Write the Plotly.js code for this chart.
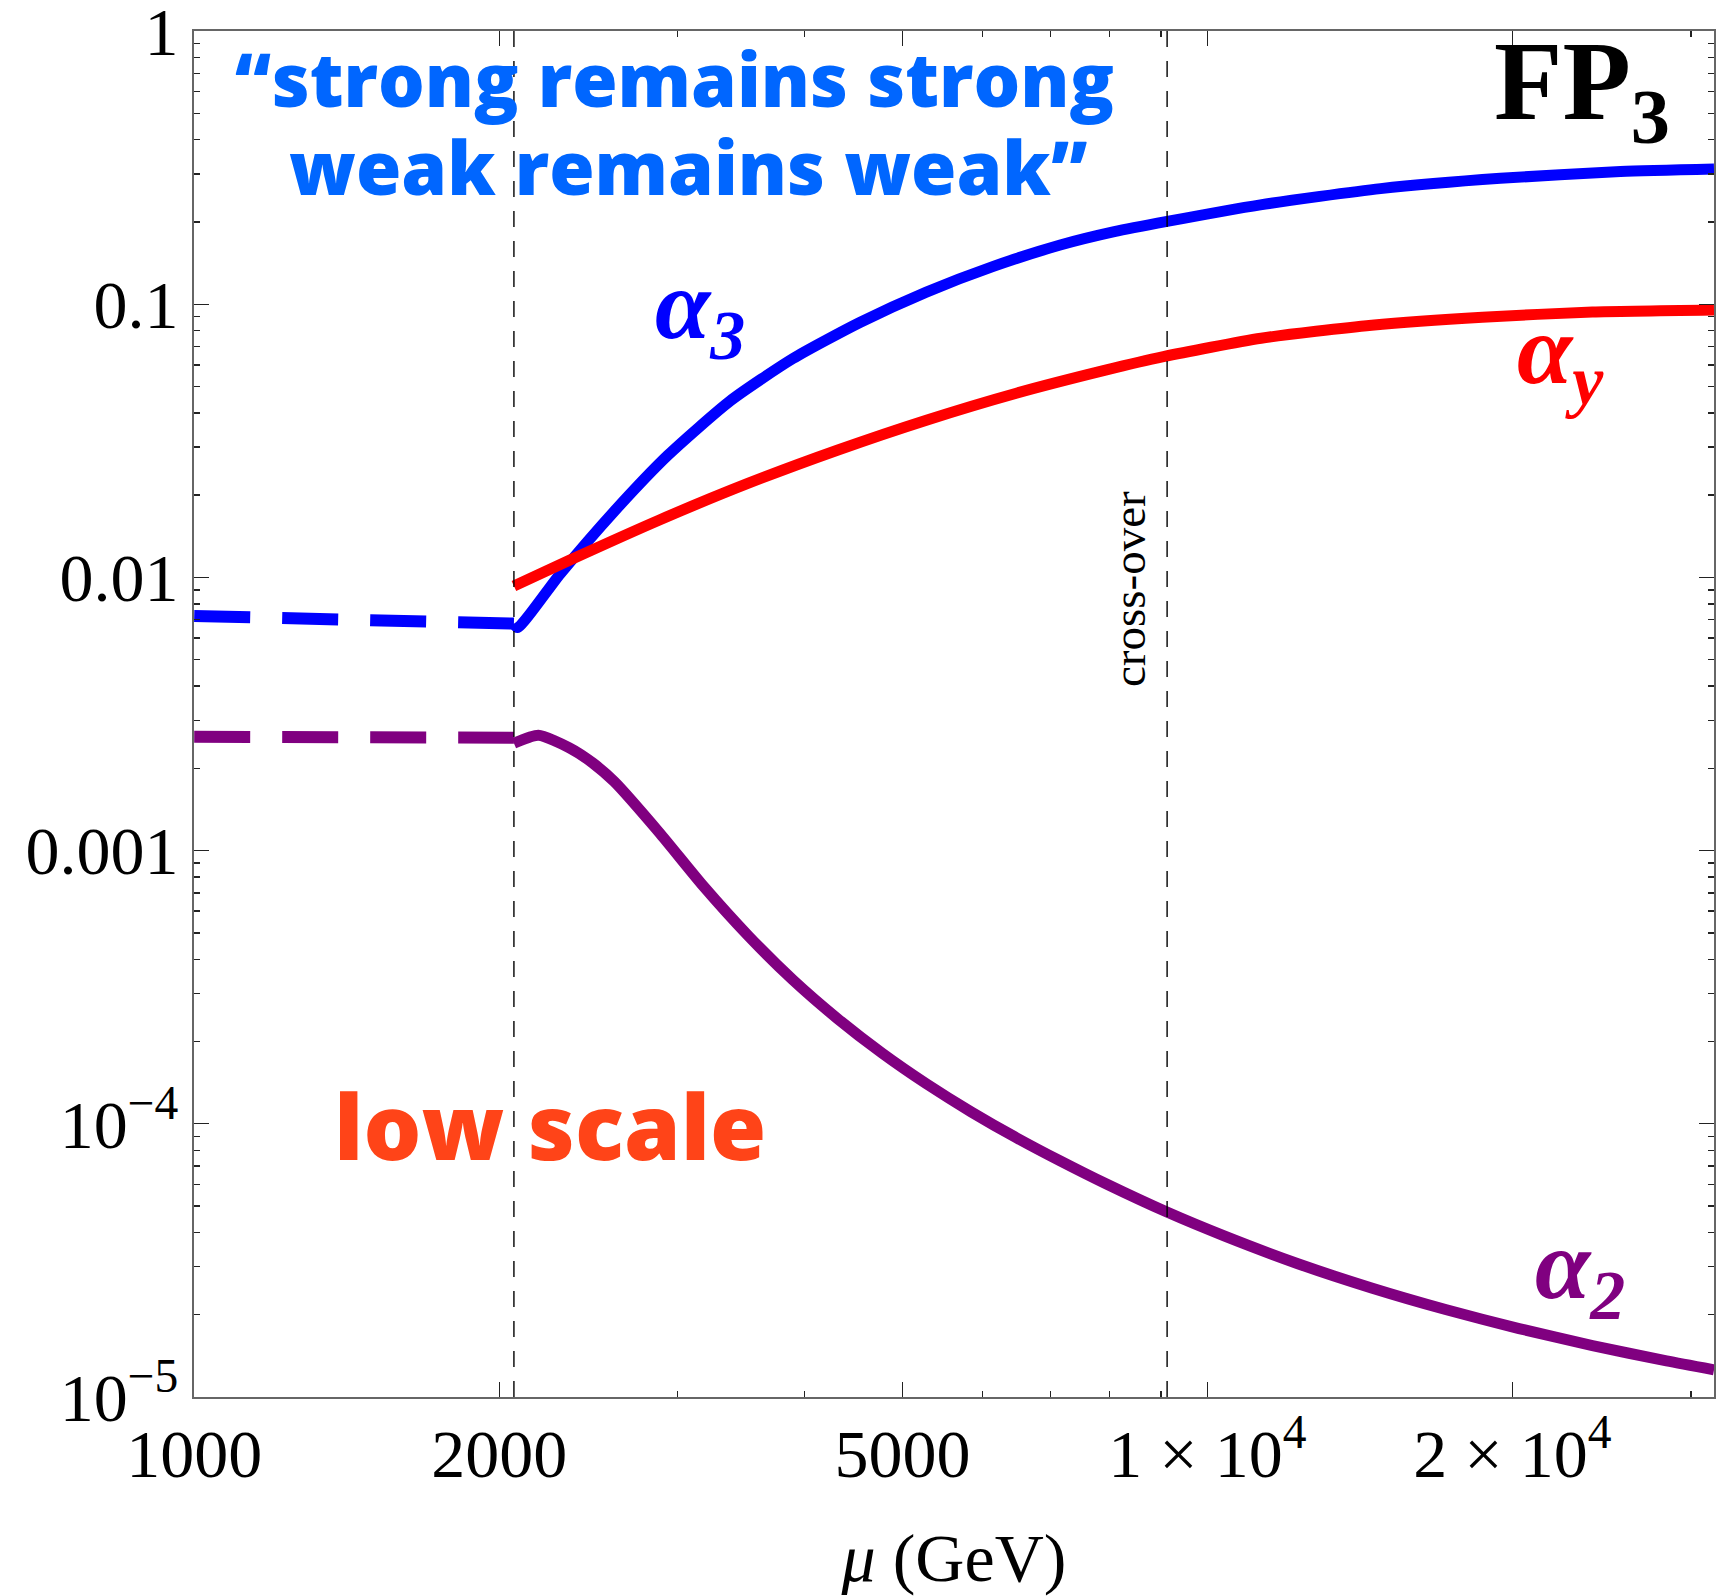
<!DOCTYPE html>
<html>
<head>
<meta charset="utf-8">
<script src="https://cdn.plot.ly/plotly-3.0.1.min.js"></script>
<style>
  html, body { margin: 0; padding: 0; background: #ffffff; }
  #chart { width: 1728px; height: 1596px; }
</style>
</head>
<body>
<div id="chart"></div>
<script>
// Running couplings at fixed point FP3 (log-log), mu in GeV
const muLow = [1000, 2068];            // below the matching scale (dashed)
const alpha3Low = [0.00722, 0.00678];
const alpha2Low = [0.00261, 0.00259];

const mu3 = [2068, 2085, 2298, 2598, 2934, 3381, 3897, 4539, 5280, 6148, 7157, 8093, 9125, 11280, 14822, 19461, 25570, 31623];
const alpha3 = [0.00678, 0.00655, 0.01032, 0.01747, 0.02800, 0.04430, 0.06322, 0.08575, 0.1108, 0.1376, 0.1647, 0.1843, 0.2010, 0.2312, 0.2650, 0.2891, 0.3062, 0.3127];

const muY = [2068, 2346, 2875, 3524, 4312, 5280, 6478, 7932, 9049, 11296, 14521, 18682, 23990, 31623];
const alphaY = [0.00931, 0.01156, 0.0162, 0.02213, 0.02922, 0.03764, 0.04725, 0.05738, 0.0643, 0.0751, 0.0838, 0.0897, 0.0936, 0.0952];

const mu2 = [2068, 2186, 2346, 2472, 2598, 2877, 3181, 3524, 3897, 4312, 4778, 5280, 5848, 6478, 7157, 7932, 9109, 10388, 12283, 14521, 17180, 20305, 23990, 28390, 31623];
const alpha2 = [0.002471, 0.002644, 0.002378, 0.002097, 0.001788, 0.001165, 0.000741, 0.000487, 0.0003367, 0.000243, 0.000181, 0.0001401, 0.0001105, 8.89e-5, 7.31e-5, 6.04e-5, 4.76e-5, 3.886e-5, 3.073e-5, 2.505e-5, 2.089e-5, 1.779e-5, 1.542e-5, 1.354e-5, 1.256e-5];

// matching scale and cross-over scale
const scaleMarks = [2068, 9125];

// axis ticks
const xTickVals = [1000, 2000, 5000, 10000, 20000];
const xTickText = ['1000', '2000', '5000', '1 × 10<sup>4</sup>', '2 × 10<sup>4</sup>'];
const xMinorVals = [3000, 4000, 6000, 7000, 8000, 9000, 30000];
const yTickVals = [1, 0.1, 0.01, 0.001, 1e-4, 1e-5];
const yTickText = ['1', '0.1', '0.01', '0.001', '10<sup>−4</sup>', '10<sup>−5</sup>'];
const yMinorVals = [];
[1e-5, 1e-4, 1e-3, 1e-2, 1e-1].forEach(d => { for (let k = 2; k <= 9; k++) yMinorVals.push(+(k * d).toPrecision(3)); });

const BLUE = '#0000ff', RED = '#ff0000', PURPLE = '#800080';

const traces = [
  { x: muLow, y: alpha3Low, mode: 'lines', line: { color: BLUE, width: 12, dash: '56px,32px' } },
  { x: muLow, y: alpha2Low, mode: 'lines', line: { color: PURPLE, width: 12, dash: '56px,32px' } },
  { x: mu3, y: alpha3, mode: 'lines', line: { color: BLUE, width: 11, shape: 'spline', smoothing: 0.6 } },
  { x: muY, y: alphaY, mode: 'lines', line: { color: RED, width: 11, shape: 'spline', smoothing: 0.6 } },
  { x: mu2, y: alpha2, mode: 'lines', line: { color: PURPLE, width: 11, shape: 'spline', smoothing: 0.6 } }
];

// plot area in pixels, used to place labels in paper units
const L = 194, R = 1714, T = 31, B = 1397;
const px = v => (v - L) / (R - L);
const py = v => (B - v) / (B - T);

const serif = 'Liberation Serif, Times New Roman, serif';
const sans = 'Open Sans, Lato, sans-serif';

const annotations = [
  { text: '“strong remains strong', x: px(674), y: py(78), font: { family: sans, size: 73.5, color: '#0066ff', weight: 800 } },
  { text: 'weak remains weak”', x: px(688), y: py(166), font: { family: sans, size: 73.5, color: '#0066ff', weight: 800 } },
  { text: 'low scale', x: px(550), y: py(1125), font: { family: sans, size: 91, color: '#ff4418', weight: 800 } },
  { text: 'FP<sub>3</sub>', x: px(1492), y: py(90), xanchor: 'left', font: { family: serif, size: 112, color: '#000000', weight: 700 } },
  { text: 'α<sub>3</sub>', x: px(653), y: py(311), xanchor: 'left', font: { family: serif, size: 100, color: BLUE, weight: 700, style: 'italic' } },
  { text: 'α<sub>y</sub>', x: px(1515), y: py(356), xanchor: 'left', font: { family: serif, size: 100, color: RED, weight: 700, style: 'italic' } },
  { text: 'α<sub>2</sub>', x: px(1533), y: py(1271), xanchor: 'left', font: { family: serif, size: 100, color: PURPLE, weight: 700, style: 'italic' } },
  { text: 'cross-over', x: px(1129), y: py(589), textangle: -90, font: { family: serif, size: 47, color: '#000000' } }
].map(a => Object.assign({ xref: 'paper', yref: 'paper', showarrow: false, xanchor: 'center', yanchor: 'middle' }, a));

const shapes = scaleMarks.map(m => ({
  type: 'line', xref: 'x', yref: 'paper', x0: m, x1: m, y0: 0, y1: 1,
  line: { color: '#000000', width: 1.4, dash: '16px,14px' }, layer: 'above'
}));

const axisCommon = {
  type: 'log', showgrid: false, zeroline: false,
  showline: true, linecolor: '#666666', linewidth: 2, mirror: 'ticks',
  ticks: 'inside', ticklen: 15, tickwidth: 1.4, tickcolor: '#222222',
  tickmode: 'array', ticklabeloverflow: 'allow',
  tickfont: { family: serif, size: 68, color: '#000000' }
};

const layout = {
  width: 1728, height: 1596,
  margin: { l: L, r: 1728 - R, t: T, b: 1596 - B },
  paper_bgcolor: '#ffffff', plot_bgcolor: '#ffffff',
  showlegend: false,
  font: { family: serif, color: '#000000' },
  xaxis: Object.assign({}, axisCommon, {
    range: [2.9998, 4.5], tickvals: xTickVals, ticktext: xTickText, ticklabelstandoff: -4,
    minor: { tickmode: 'array', tickvals: xMinorVals, ticks: 'inside', ticklen: 6, tickwidth: 1.4, tickcolor: '#222222', showgrid: false },
    title: { text: '<i>μ</i> (GeV)', font: { family: serif, size: 68, color: '#000000' }, standoff: 62 }
  }),
  yaxis: Object.assign({}, axisCommon, {
    range: [-5.0003, 0.0003], tickvals: yTickVals, ticktext: yTickText, ticklabelstandoff: 0,
    minor: { tickmode: 'array', tickvals: yMinorVals, ticks: 'inside', ticklen: 6, tickwidth: 1.4, tickcolor: '#222222', showgrid: false }
  }),
  annotations: annotations,
  shapes: shapes
};

Plotly.newPlot('chart', traces, layout, { staticPlot: true, displayModeBar: false });
</script>
</body>
</html>
